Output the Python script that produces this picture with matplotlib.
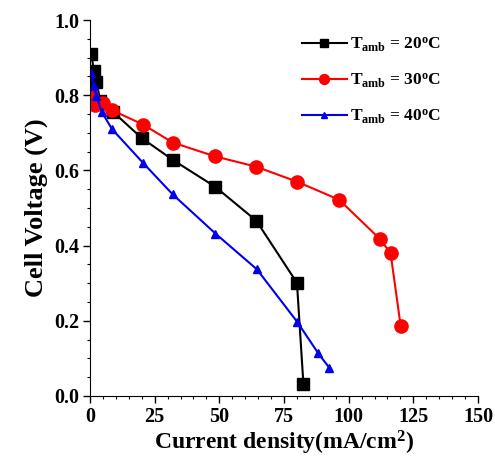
import matplotlib
matplotlib.use("Agg")
import matplotlib.pyplot as plt
from matplotlib.ticker import MultipleLocator

plt.rcParams['font.family'] = ['Liberation Serif', 'DejaVu Serif']
plt.rcParams['font.weight'] = 'bold'
plt.rcParams['mathtext.fontset'] = 'custom'
plt.rcParams['mathtext.rm'] = 'Liberation Serif:bold'
plt.rcParams['mathtext.bf'] = 'Liberation Serif:bold'
plt.rcParams['mathtext.it'] = 'Liberation Serif:bold'

# 20 C
j20 = [0.5, 1.5, 2.5, 4.0, 9.0, 20.0, 32.0, 48.5, 64.3, 80.0, 82.5]
v20 = [0.91, 0.865, 0.835, 0.785, 0.755, 0.686, 0.628, 0.556, 0.466, 0.301, 0.032]
# 30 C
j30 = [0.5, 2.0, 5.0, 8.5, 20.5, 32.0, 48.5, 64.2, 80.0, 96.3, 112.0, 116.2, 120.1]
v30 = [0.80, 0.775, 0.78, 0.76, 0.722, 0.674, 0.637, 0.61, 0.57, 0.522, 0.418, 0.38, 0.186]
# 40 C
j40 = [0.5, 1.5, 2.5, 4.5, 8.5, 20.5, 32.0, 48.5, 64.5, 80.0, 88.3, 92.5]
v40 = [0.86, 0.825, 0.797, 0.756, 0.71, 0.62, 0.536, 0.432, 0.337, 0.198, 0.113, 0.075]

labels = [r'T$_{\rm amb}$ = 20$^{\rm o}$C',
          r'T$_{\rm amb}$ = 30$^{\rm o}$C',
          r'T$_{\rm amb}$ = 40$^{\rm o}$C']

fig = plt.figure(figsize=(4.95, 4.74), dpi=100)
ax = fig.add_axes([0.1818, 0.1646, 0.7839, 0.7932])

ax.plot(j20, v20, color='black', marker='s', markersize=8, lw=1.5, label=labels[0])
ax.plot(j30, v30, color='#ff0000', marker='o', markersize=9.5, lw=1.5, label=labels[1])
ax.plot(j40, v40, color='#0000ee', marker='^', markersize=5.5, lw=1.5, label=labels[2])

ax.set_xlim(0, 150)
ax.set_ylim(0, 1.0)
ax.xaxis.set_major_locator(MultipleLocator(25))
ax.xaxis.set_minor_locator(MultipleLocator(5))
ax.yaxis.set_major_locator(MultipleLocator(0.2))
ax.yaxis.set_minor_locator(MultipleLocator(0.05))
ax.spines['top'].set_visible(False)
ax.spines['right'].set_visible(False)
ax.tick_params(which='major', direction='out', length=5, width=1, labelsize=14.5, pad=3)
ax.tick_params(which='minor', direction='out', length=2.5, width=0.8)
ax.set_xticks([0, 25, 50, 75, 100, 125, 150])
ax.set_yticks([0.0, 0.2, 0.4, 0.6, 0.8, 1.0])
ax.set_yticklabels(['0.0', '0.2', '0.4', '0.6', '0.8', '1.0'])

ax.set_xlabel(r'Current density(mA/cm$^{\rm 2}$)', fontsize=17, fontweight='bold', labelpad=1)
ax.set_ylabel('Cell Voltage (V)', fontsize=19, fontweight='bold', labelpad=4)

ax.legend(loc='upper right', bbox_to_anchor=(0.945, 1.0), frameon=False, fontsize=12.5,
          handlelength=2.6, labelspacing=1.0, handletextpad=0.2, markerscale=0.75)

fig.savefig('out.png', dpi=100)
